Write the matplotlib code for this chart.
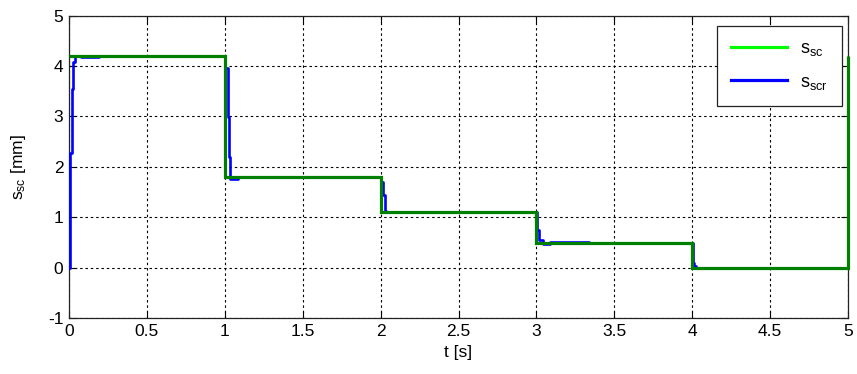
import matplotlib
matplotlib.use("Agg")
import matplotlib.pyplot as plt
from matplotlib.lines import Line2D

plt.rcParams['font.family'] = ['Liberation Sans', 'DejaVu Sans']
plt.rcParams['mathtext.fontset'] = 'custom'
plt.rcParams['mathtext.rm'] = 'Liberation Sans'
plt.rcParams['mathtext.it'] = 'Liberation Sans'

# Reference stroke s_sc (step changes each second)
t_ref = [0.0, 1.0, 2.0, 3.0, 4.0, 5.0]
s_sc = [4.20, 1.79, 1.10, 0.48, 0.00, 4.20]

# Realised stroke s_scr
t_real = [0.000, 0.004, 0.006, 0.017, 0.028, 0.039, 0.077, 0.195,
          1.002, 1.018, 1.027, 1.031, 1.085,
          2.004, 2.013, 2.026, 2.034,
          3.006, 3.018, 3.040, 3.087, 3.340,
          4.004, 4.012, 4.022, 5.000]
s_scr = [0.00, 0.54, 2.27, 3.54, 4.08, 4.20, 4.17, 4.20,
         3.95, 2.99, 2.20, 1.75, 1.79,
         1.70, 1.43, 1.13, 1.10,
         0.75, 0.55, 0.47, 0.51, 0.48,
         0.10, 0.03, 0.00, 0.00]

x_ticks = [0, 0.5, 1, 1.5, 2, 2.5, 3, 3.5, 4, 4.5, 5]
x_tick_labels = ['0', '0.5', '1', '1.5', '2', '2.5', '3', '3.5', '4', '4.5', '5']
y_ticks = [-1, 0, 1, 2, 3, 4, 5]
y_tick_labels = ['-1', '0', '1', '2', '3', '4', '5']

fig = plt.figure(figsize=(8.57, 3.74), dpi=100)
ax = fig.add_axes([69 / 857, 1 - 318 / 374, 779 / 857, 302.5 / 374])

ax.plot(t_real, s_scr, color='#0000ff', lw=1.9, drawstyle='steps-post', zorder=3)
ax.plot(t_ref, s_sc, color='#008000', lw=2.3, drawstyle='steps-post', zorder=4,
        clip_on=False, solid_capstyle='butt', solid_joinstyle='miter')

ax.set_xlim(0, 5)
ax.set_ylim(-1, 5)
ax.set_xticks(x_ticks)
ax.set_xticklabels(x_tick_labels)
ax.set_yticks(y_ticks)
ax.set_yticklabels(y_tick_labels)
ax.tick_params(direction='in', length=5, width=0.8, top=True, right=True,
               labelsize=12.5, colors='black', pad=4)
for sp in ax.spines.values():
    sp.set_linewidth(0.9)
    sp.set_color('#222222')
    sp.set_zorder(2)

ax.grid(True, color='black', linestyle=(0, (2.2, 2.6)), linewidth=0.8)
ax.set_axisbelow(True)

ax.set_xlabel('t [s]', fontsize=12.5, labelpad=5)
ax.set_ylabel(r'$\mathregular{s_{sc}}$ [mm]', fontsize=12.5, labelpad=14)

handles = [Line2D([], [], color='#00ff00', lw=2.3),
           Line2D([], [], color='#0000ff', lw=2.3)]
leg = ax.legend(handles, [r'$\mathregular{s_{sc}}$', r'$\mathregular{s_{scr}}$'],
                loc='upper right', bbox_to_anchor=(1 - 6 / 779, 1 - 10.5 / 302.5),
                borderaxespad=0, fancybox=False, framealpha=1, edgecolor='#222222',
                fontsize=13, handlelength=3.1, labelspacing=0.85, borderpad=0.8,
                handletextpad=0.7)
leg.get_frame().set_linewidth(0.9)
leg.set_zorder(5)

fig.savefig('out.png', dpi=100)
